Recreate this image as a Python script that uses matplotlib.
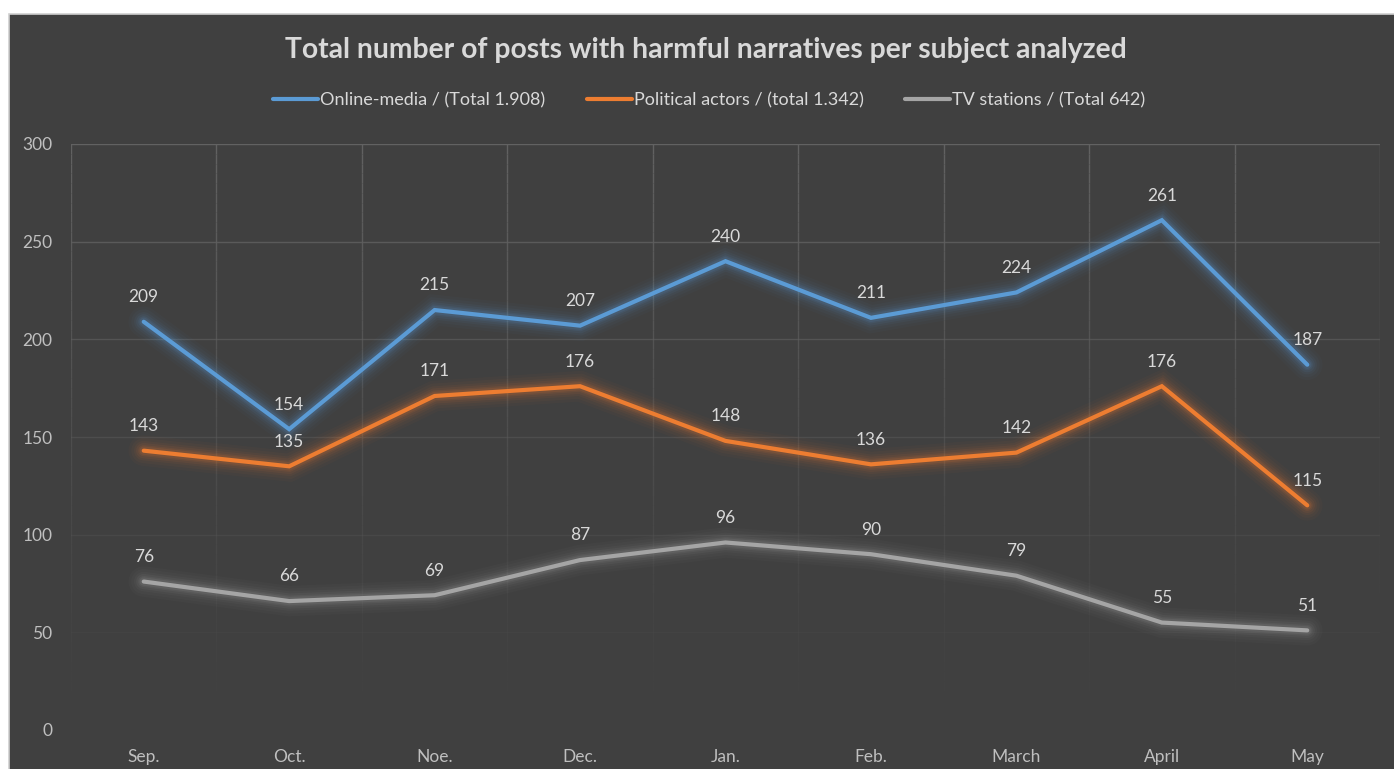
import matplotlib.pyplot as plt
import matplotlib.patheffects as pe
from matplotlib.patches import Rectangle
from matplotlib.collections import LineCollection
from matplotlib.colors import to_rgb
import numpy as np

plt.rcParams['font.family'] = ['Lato', 'DejaVu Sans']

meses = ['Sep.', 'Oct.', 'Noe.', 'Dec.', 'Jan.', 'Feb.', 'March', 'April', 'May']
online = [209, 154, 215, 207, 240, 211, 224, 261, 187]
politicos = [143, 135, 171, 176, 148, 136, 142, 176, 115]
tv = [76, 66, 69, 87, 96, 90, 79, 55, 51]

series = [
    (online, 'Online-media / (Total 1.908)', '#5B9BD5'),
    (politicos, 'Political actors / (total 1.342)', '#ED7D31'),
    (tv, 'TV stations / (Total 642)', '#A5A5A5'),
]

fondo = '#404040'
texto = '#D9D9D9'
grilla = '#626262'
ymax = 300

fig = plt.figure(figsize=(13.94, 7.69), dpi=100)
fig.patch.set_facecolor('white')
# panel oscuro del grafico, detras de los ejes
fig.patches.append(Rectangle((9 / 1394, -0.01), 1.0, 1.01 - 14 / 769, transform=fig.transFigure,
                             facecolor=fondo, edgecolor='#D0D0D0', linewidth=1.2, zorder=-10))

ax = fig.add_axes([71 / 1394, 1 - 730 / 769, (1380 - 71) / 1394, (730 - 144) / 769])
ax.set_facecolor('none')

x = np.arange(len(meses))

# grilla que se desvanece hacia abajo
def opacidad(y):
    return np.clip(y / ymax, 0, 1) ** 1.3

for v in np.arange(0, ymax + 1, 50):
    ax.axhline(v, color=grilla, linewidth=1, alpha=float(opacidad(v)), zorder=1)

ys = np.linspace(0, ymax, 61)
rgb = to_rgb(grilla)
segs, cols = [], []
for xv in np.arange(-0.5, len(meses), 1):
    for y0, y1 in zip(ys[:-1], ys[1:]):
        segs.append([(xv, y0), (xv, y1)])
        cols.append((*rgb, float(opacidad((y0 + y1) / 2))))
ax.add_collection(LineCollection(segs, colors=cols, linewidths=1, zorder=1))

def brillo(color):
    # halo suave alrededor de la linea
    efectos = []
    for w, a in [(22, 0.03), (18, 0.04), (14, 0.05), (11, 0.07), (8, 0.09), (6, 0.12)]:
        efectos.append(pe.Stroke(linewidth=w, foreground=color, alpha=a))
    efectos.append(pe.Normal())
    return efectos

for valores, nombre, color in series:
    ax.plot(x, valores, color=color, linewidth=3, label=nombre,
            solid_capstyle='round', solid_joinstyle='miter',
            path_effects=brillo(color), zorder=3)
    for xi, v in zip(x, valores):
        ax.annotate(str(v), (xi, v), xytext=(0, 12), textcoords='offset points',
                    ha='center', va='bottom', fontsize=12.5, color=texto, zorder=4)

ax.set_xlim(-0.5, len(meses) - 0.5)
ax.set_ylim(0, ymax)
ax.set_yticks(np.arange(0, ymax + 1, 50))
ax.set_xticks(x)
ax.set_xticklabels(meses)

for s in ax.spines.values():
    s.set_visible(False)
ax.tick_params(axis='both', which='both', length=0, colors='#BFBFBF', labelsize=12.5)
ax.tick_params(axis='y', pad=13.5)
ax.tick_params(axis='x', pad=14)

fig.text(706 / 1394, 1 - 50 / 769, 'Total number of posts with harmful narratives per subject analyzed',
         ha='center', va='center', fontsize=20.3, fontweight='bold', color=texto)

ley = fig.legend(loc='center', bbox_to_anchor=(709 / 1394, 1 - 100 / 769), ncol=3, frameon=False,
                 fontsize=13, labelcolor=texto, handlelength=2.5, handletextpad=0.1,
                 columnspacing=2.3)
for h in ley.legend_handles:
    h.set_path_effects([])

fig.savefig('out.png', dpi=100, facecolor=fig.get_facecolor())
